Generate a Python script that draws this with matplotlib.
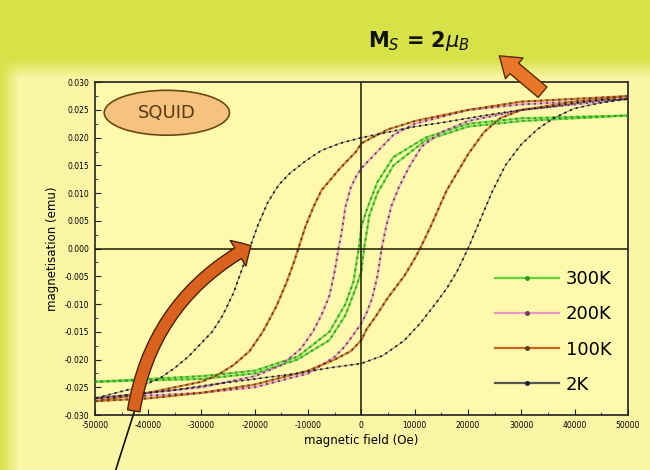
import numpy as np
import matplotlib
matplotlib.use('Agg')
import matplotlib.pyplot as plt
from matplotlib.patches import Ellipse, FancyArrowPatch
from matplotlib.ticker import MultipleLocator

# Hysteresis loops: field (Oe) and magnetisation (emu)
# each temperature has a descending (upper) and ascending (lower) branch
h_2k_up = [50000, 45000, 40000, 35000, 30000, 25000, 20000, 15000, 10000, 5000, 0, -4000, -7500, -10500,
           -13500, -15500, -17500, -19500, -21000, -22500, -24000, -26000, -28000, -30000, -32500,
           -35000, -38000, -42000, -46000, -50000]
m_2k_up = [0.027, 0.0268, 0.0262, 0.0255, 0.025, 0.0243, 0.0235, 0.0227, 0.022, 0.021, 0.020, 0.019, 0.0177,
           0.0158, 0.0135, 0.0115, 0.0085, 0.004, 0.0, -0.004, -0.008, -0.012, -0.015, -0.017, -0.0195,
           -0.0215, -0.0235, -0.025, -0.026, -0.027]
h_2k_low = [-50000, -42000, -35000, -28000, -20000, -12000, -6000, 0, 4000, 8000, 11000, 14000, 16000,
            18000, 20000, 22000, 24500, 27000, 30000, 33000, 36000, 40000, 45000, 50000]
m_2k_low = [-0.027, -0.0262, -0.0255, -0.0245, -0.0235, -0.0225, -0.0215, -0.0207, -0.0193, -0.0166, -0.0135,
            -0.0098, -0.0072, -0.004, 0.0, 0.0045, 0.0102, 0.015, 0.0188, 0.0215, 0.0235, 0.0253, 0.0263, 0.027]

h_100k_up = [50000, 40000, 30000, 20000, 15000, 10000, 5000, 2000, 0, -1000, -4000, -7500, -9000, -10500,
             -11500, -12500, -14000, -16000, -18500, -21000, -24000, -27000, -30000, -40000, -50000]
m_100k_up = [0.0275, 0.027, 0.0265, 0.025, 0.024, 0.023, 0.0215, 0.020, 0.019, 0.0175, 0.0145, 0.0105,
             0.0075, 0.004, 0.001, -0.002, -0.006, -0.0105, -0.015, -0.0185, -0.021, -0.0228, -0.024,
             -0.026, -0.0275]
h_100k_low = [-50000, -40000, -30000, -20000, -10000, -5000, -2000, 0, 1000, 2500, 5000, 8000, 10000,
              11000, 13000, 16000, 20000, 23000, 26000, 30000, 40000, 50000]
m_100k_low = [-0.0275, -0.027, -0.026, -0.0245, -0.022, -0.020, -0.0185, -0.0165, -0.0145, -0.0125, -0.0088,
              -0.005, -0.0018, 0.0, 0.004, 0.0105, 0.017, 0.021, 0.0235, 0.025, 0.0265, 0.0275]

h_200k_up = [50000, 30000, 20000, 10000, 6000, 3000, 0, -1000, -2000, -3000, -3700, -4300, -5000, -6000,
             -7500, -9000, -11300, -15000, -20000, -30000, -50000]
m_200k_up = [0.027, 0.026, 0.025, 0.0225, 0.0205, 0.0175, 0.0145, 0.013, 0.011, 0.0075, 0.003, 0.0, -0.004,
             -0.0085, -0.012, -0.0148, -0.018, -0.021, -0.023, -0.025, -0.027]
h_200k_low = [-50000, -30000, -20000, -10000, -5000, -3000, 0, 1000, 2000, 3000, 3800, 4600, 5600, 7000,
              9000, 11300, 15000, 20000, 30000, 50000]
m_200k_low = [-0.027, -0.026, -0.025, -0.0225, -0.0195, -0.0175, -0.0135, -0.0115, -0.009, -0.005, 0.0,
              0.0038, 0.0076, 0.011, 0.0148, 0.0184, 0.021, 0.023, 0.025, 0.027]

h_300k_up = [50000, 30000, 20000, 12000, 6000, 3000, 1000, 0, -500, -1500, -3000, -6000, -12000,
             -20000, -30000, -50000]
m_300k_up = [0.024, 0.0235, 0.0225, 0.020, 0.0165, 0.012, 0.007, 0.004, 0.0, -0.006, -0.010, -0.015, -0.0195,
             -0.022, -0.023, -0.024]
h_300k_low = [-50000, -30000, -20000, -12000, -6000, -3000, -1000, 0, 500, 1500, 3000, 6000, 12000,
              20000, 30000, 50000]
m_300k_low = [-0.024, -0.0235, -0.0225, -0.020, -0.0165, -0.012, -0.007, -0.004, 0.0, 0.006, 0.010, 0.015,
              0.0195, 0.022, 0.023, 0.024]

x_ticks = [-50000, -40000, -30000, -20000, -10000, 0, 10000, 20000, 30000, 40000, 50000]
y_ticks = [-0.030, -0.025, -0.020, -0.015, -0.010, -0.005, 0.000, 0.005, 0.010, 0.015, 0.020, 0.025, 0.030]
legend_labels = ['300K', '200K', '100K', '2K']

fig = plt.figure(figsize=(6.5, 4.7), dpi=100)

# slide-style background: green-yellow banner fading into pale yellow
bg = fig.add_axes([0, 0, 1, 1], zorder=-10)
top = np.array([214, 226, 72]) / 255
pale = np.array([250, 246, 165]) / 255
rows = np.linspace(0, 1, 470)
w = np.clip((rows - 0.125) / 0.04, 0, 1)[:, None]
grad = top[None, :] * (1 - w) + pale[None, :] * w
img = np.repeat(grad[:, None, :], 650, axis=1)
cols = np.clip(np.arange(650) / 18.0, 0, 1)
img = img * cols[None, :, None] + top[None, None, :] * (1 - cols[None, :, None])
bg.imshow(img, aspect='auto', extent=[0, 1, 0, 1], origin='upper')
bg.axis('off')

ax = fig.add_axes([0.146, 0.117, 0.820, 0.708])
ax.set_facecolor('#fff9ad')

series = [
    (h_300k_up, m_300k_up, h_300k_low, m_300k_low, '#5fd33a', '#2e9a1e'),
    (h_200k_up, m_200k_up, h_200k_low, m_200k_low, '#e79ac8', '#6a3f52'),
    (h_100k_up, m_100k_up, h_100k_low, m_100k_low, '#c8661e', '#5a3a10'),
    (h_2k_up, m_2k_up, h_2k_low, m_2k_low, '#555555', '#1a1a2a'),
]
handles = []
for (hu, mu, hl, ml, c, dc), lab in zip(series, legend_labels):
    for hh, mm in [(hu, mu), (hl, ml)]:
        ax.plot(hh, mm, color=c, lw=1.6 if c != '#555555' else 0.6, alpha=0.8, zorder=2)
        ax.plot(hh, mm, color=dc, lw=1.3, ls=(0, (1.2, 2.2)), zorder=3)
    hd, = ax.plot([], [], color=c, lw=1.6, marker='o', ms=2.5, mfc=dc, mec=dc, label=lab)
    handles.append(hd)

ax.axhline(0, color='#1a1a00', lw=1.1, zorder=4)
ax.axvline(0, color='#1a1a00', lw=1.1, zorder=4)

ax.set_xlim(-50000, 50000)
ax.set_ylim(-0.030, 0.030)
ax.set_xticks(x_ticks)
ax.set_yticks(y_ticks)
ax.set_xticklabels([str(t) for t in x_ticks])
ax.set_yticklabels(['%.3f' % t for t in y_ticks])
ax.xaxis.set_minor_locator(MultipleLocator(5000))
ax.yaxis.set_minor_locator(MultipleLocator(0.0025))
ax.tick_params(which='both', direction='in', color='#222222')
ax.tick_params(which='major', length=4, labelsize=5.5, pad=4)
ax.tick_params(which='minor', length=2)
for sp in ax.spines.values():
    sp.set_linewidth(1.2)
    sp.set_color('#222222')
ax.set_xlabel('magnetic field (Oe)', fontsize=8.5, labelpad=3)
ax.set_ylabel('magnetisation (emu)', fontsize=8.5, labelpad=4)

leg = ax.legend(handles=handles, loc='lower right', bbox_to_anchor=(1.0, 0.015), frameon=False,
                fontsize=13, handlelength=3.5, labelspacing=0.95, handletextpad=0.4)

# SQUID badge
ax.add_patch(Ellipse((-36500, 0.0245), 23500, 0.0081, facecolor='#f6c27f', edgecolor='#6b4a10',
                     lw=1.2, zorder=5))
ax.text(-36500, 0.0245, 'SQUID', ha='center', va='center', fontsize=13, color='#5a3a10', zorder=6)

# saturation note and arrows
fig.text(0.645, 0.913, r'$\mathbf{M}_S$ = 2$\mu_B$', ha='center', va='center', fontsize=15,
         fontweight='bold', color='#111111')
fig.patches.append(FancyArrowPatch((0.838, 0.80), (0.765, 0.885), transform=fig.transFigure,
                                   arrowstyle='simple,head_width=1.4,head_length=1.0,tail_width=0.7',
                                   mutation_scale=14, facecolor='#e8772a', edgecolor='#5a2a00', lw=1))
fig.lines.append(plt.Line2D([0.178, 0.208], [0.0, 0.13], transform=fig.transFigure, color='#111111', lw=1.2))
fig.patches.append(FancyArrowPatch((0.205, 0.12), (0.39, 0.48), transform=fig.transFigure,
                                   connectionstyle='arc3,rad=-0.25',
                                   arrowstyle='simple,head_width=1.2,head_length=0.6,tail_width=0.5',
                                   mutation_scale=18, facecolor='#d9621f', edgecolor='#4a2000', lw=1,
                                   zorder=10))

fig.savefig('out.png', dpi=100)
